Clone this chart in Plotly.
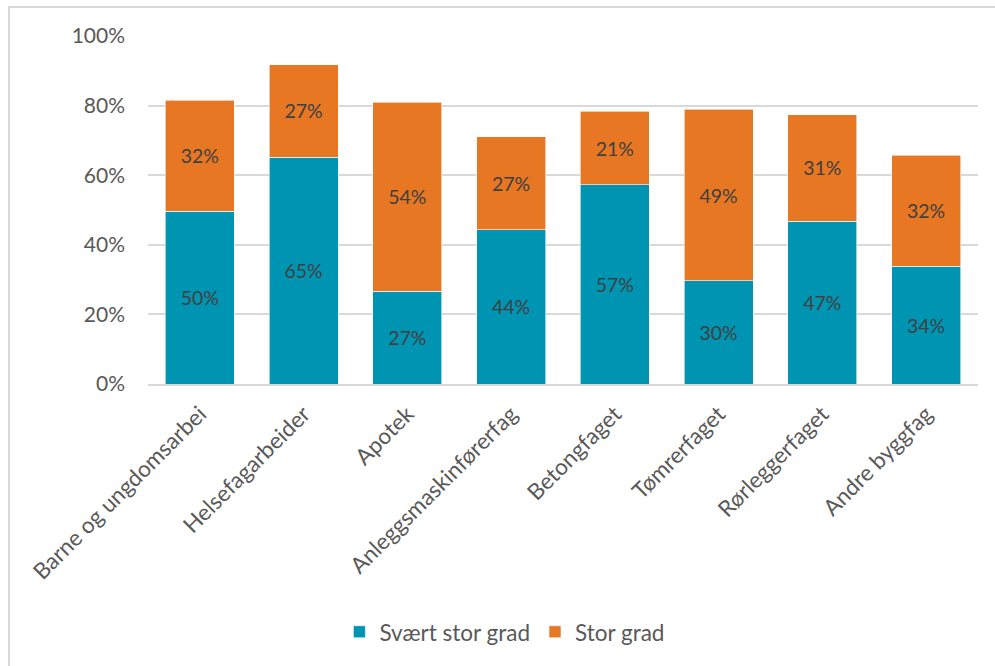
import plotly.graph_objects as go

categories = ["Barne og ungdomsarbei", "Helsefagarbeider", "Apotek", "Anleggsmaskinførerfag",
              "Betongfaget", "Tømrerfaget", "Rørleggerfaget", "Andre byggfag"]
svaert_stor = [0.496, 0.652, 0.267, 0.443, 0.572, 0.296, 0.468, 0.339]
stor = [0.319, 0.266, 0.543, 0.267, 0.212, 0.494, 0.306, 0.319]
y_ticks = [0, 0.2, 0.4, 0.6, 0.8, 1.0]
y_tick_labels = ["0%", "20%", "40%", "60%", "80%", "100%"]

BLUE = "#0094B3"
ORANGE = "#E77723"
FONT = "Lato, Carlito, Calibri, sans-serif"

fig = go.Figure()
fig.add_trace(go.Bar(x=categories, y=svaert_stor, name="Svært stor grad",
                     marker=dict(color=BLUE, line=dict(color="#ffffff", width=0.6)),
                     texttemplate="%{y:.0%}", textposition="inside", insidetextanchor="middle",
                     textfont=dict(color="#404040", size=19.5, family=FONT), textangle=0))
fig.add_trace(go.Bar(x=categories, y=stor, name="Stor grad",
                     marker=dict(color=ORANGE, line=dict(color="#ffffff", width=0.6)),
                     texttemplate="%{y:.0%}", textposition="inside", insidetextanchor="middle",
                     textfont=dict(color="#404040", size=19.5, family=FONT), textangle=0))

fig.update_layout(
    barmode="stack",
    bargap=0.335,
    width=995, height=666,
    margin=dict(l=148, r=17, t=36, b=282),
    paper_bgcolor="white", plot_bgcolor="white",
    font=dict(family=FONT, color="#595959", size=20),
    showlegend=True,
    legend=dict(orientation="h", x=0.430, xanchor="center", y=-0.713, yanchor="middle",
                font=dict(size=22.5, color="#595959"), itemwidth=30, traceorder="normal"),
    uniformtext=dict(minsize=8, mode="show"),
)
fig.update_yaxes(range=[0, 1], tickvals=y_ticks, ticktext=y_tick_labels,
                 showgrid=True, gridcolor="#D9D9D9", gridwidth=2,
                 zeroline=False, showline=False, ticks="", ticklabelstandoff=22,
                 tickfont=dict(size=21, color="#595959"))
fig.update_xaxes(tickangle=-45, showline=True, linecolor="#D9D9D9", linewidth=2,
                 ticks="", ticklabelstandoff=6, tickfont=dict(size=22.5, color="#595959"))

fig.add_shape(type="rect", xref="paper", yref="paper",
              x0=(9 - 148) / 830, x1=(1000 - 148) / 830,
              y0=(384 - 680) / 348, y1=(384 - 7) / 348,
              line=dict(color="#D9D9D9", width=2), fillcolor="rgba(0,0,0,0)", layer="below")

fig.write_html("out.html", config={"displayModeBar": False},
               post_script="document.body.style.margin='0';document.body.style.overflow='hidden';")
